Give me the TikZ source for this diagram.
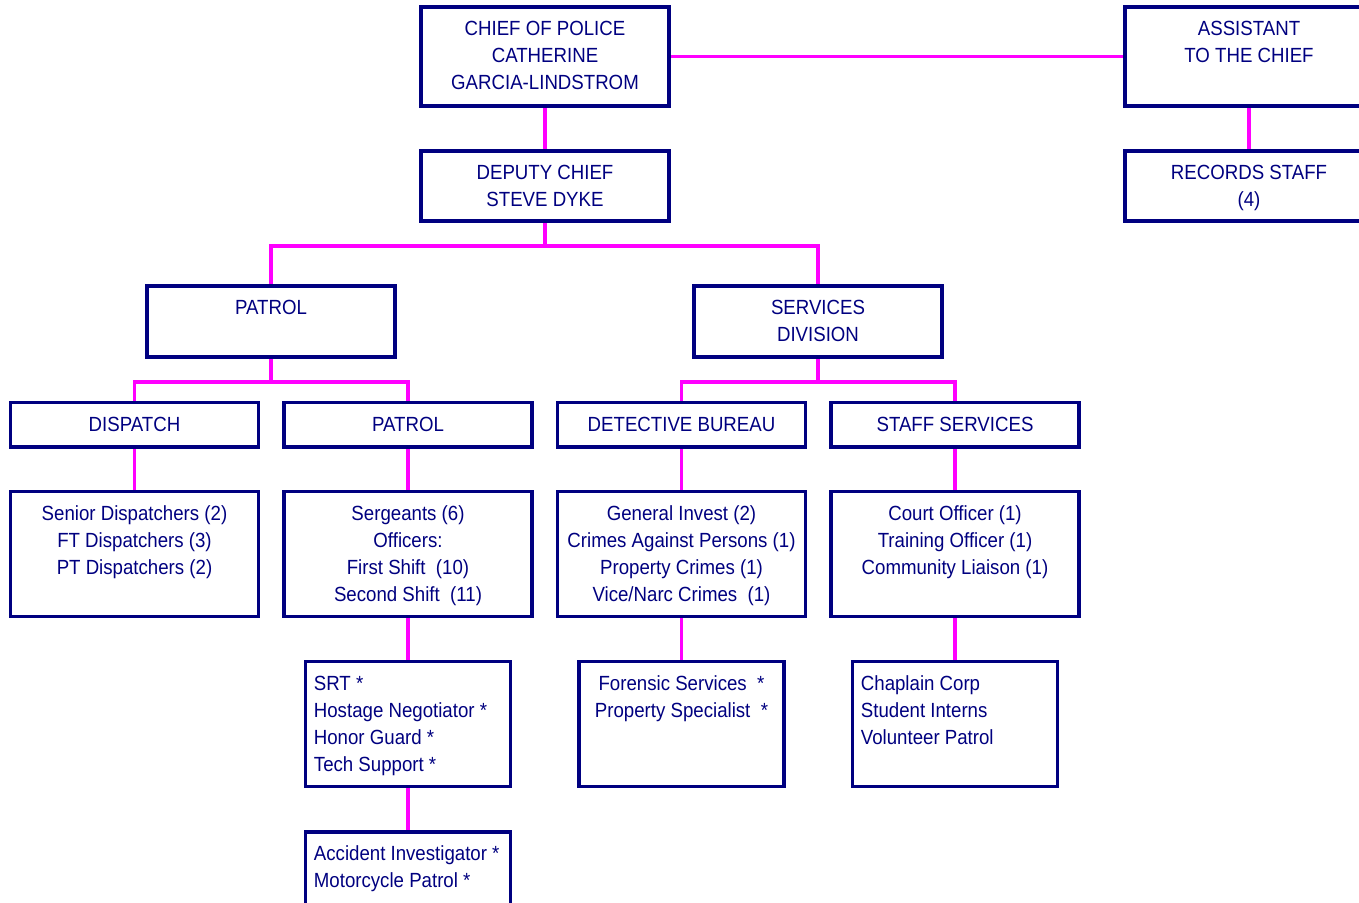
\documentclass[tikz,border=0pt]{standalone}
\usepackage{fontspec}
\setmainfont{Liberation Sans}[FakeStretch=0.91]
\usetikzlibrary{backgrounds}
\definecolor{navy}{RGB}{0,0,128}
\definecolor{pink}{RGB}{255,0,255}
\begin{document}
\begin{tikzpicture}[x=1pt,y=-1pt,
  box/.style={draw=navy, line width=3.6pt, inner sep=0, fill=white},
  wide/.style={minimum width=248},
  narrow/.style={minimum width=205},
  txt/.style={text=navy, font=\fontsize{20.5}{27}\selectfont, inner sep=0, align=center, anchor=north, yshift=-11.4pt},
  ltxt/.style={text=navy, font=\fontsize{20.5}{27}\selectfont, inner sep=0, align=left, anchor=north west, yshift=-11.4pt, xshift=10pt},
  conn/.style={draw=pink, line width=3.6pt}]
\useasboundingbox (0,0) rectangle (1359,902);
% boxes
\node[box, wide, minimum height=99] (chief) at (545,56.5) {};
\node[box, wide, minimum height=99] (asst) at (1249,56.5) {};
\node[box, wide, minimum height=70] (deputy) at (545,186) {};
\node[box, wide, minimum height=70] (records) at (1249,186) {};
\node[box, wide, minimum height=71] (patrol) at (271,321.5) {};
\node[box, wide, minimum height=71] (services) at (818,321.5) {};
\node[box, wide, minimum height=44.5] (dispatch) at (134.5,424.75) {};
\node[box, wide, minimum height=44.5] (patroltwo) at (408,424.75) {};
\node[box, wide, minimum height=44.5] (detective) at (681.5,424.75) {};
\node[box, wide, minimum height=44.5] (staff) at (955,424.75) {};
\node[box, wide, minimum height=125] (dispsub) at (134.5,554) {};
\node[box, wide, minimum height=125] (sergeants) at (408,554) {};
\node[box, wide, minimum height=125] (invest) at (681.5,554) {};
\node[box, wide, minimum height=125] (court) at (955,554) {};
\node[box, narrow, minimum height=125] (srt) at (408,723.8) {};
\node[box, narrow, minimum height=125] (forensic) at (681.5,723.8) {};
\node[box, narrow, minimum height=125] (chaplain) at (955,723.8) {};
\node[box, narrow, minimum height=125] (accident) at (408,894.5) {};
% texts
\node[txt] (chiefT) at (chief.north) {\strut CHIEF OF POLICE\\CATHERINE\\GARCIA-LINDSTROM};
\node[txt] (asstT) at (asst.north) {\strut ASSISTANT\\TO THE CHIEF};
\node[txt] (deputyT) at (deputy.north) {\strut DEPUTY CHIEF\\STEVE DYKE};
\node[txt] (recordsT) at (records.north) {\strut RECORDS STAFF\\(4)};
\node[txt] (patrolT) at (patrol.north) {\strut PATROL};
\node[txt] (servicesT) at (services.north) {\strut SERVICES\\DIVISION};
\node[txt] (dispatchT) at (dispatch.north) {\strut DISPATCH};
\node[txt] (patroltwoT) at (patroltwo.north) {\strut PATROL};
\node[txt] (detectiveT) at (detective.north) {\strut DETECTIVE BUREAU};
\node[txt] (staffT) at (staff.north) {\strut STAFF SERVICES};
\node[txt] (dispsubT) at (dispsub.north) {\strut Senior Dispatchers (2)\\FT Dispatchers (3)\\PT Dispatchers (2)};
\node[txt] (sergeantsT) at (sergeants.north) {\strut Sergeants (6)\\Officers:\\First Shift\ \ (10)\\Second Shift\ \ (11)};
\node[txt] (investT) at (invest.north) {\strut General Invest (2)\\Crimes Against Persons (1)\\Property Crimes (1)\\Vice/Narc Crimes\ \ (1)};
\node[txt] (courtT) at (court.north) {\strut Court Officer (1)\\Training Officer (1)\\Community Liaison (1)};
\node[ltxt] (srtT) at (srt.north west) {\strut SRT *\\Hostage Negotiator *\\Honor Guard *\\Tech Support *};
\node[txt] (forensicT) at (forensic.north) {\strut Forensic Services\ \ *\\Property Specialist\ \ *};
\node[ltxt] (chaplainT) at (chaplain.north west) {\strut Chaplain Corp\\Student Interns\\Volunteer Patrol};
\node[ltxt] (accidentT) at (accident.north west) {\strut Accident Investigator *\\Motorcycle Patrol *};
% connectors
\begin{scope}[on background layer]
\draw[conn] (chief.east) -- (asst.west);
\draw[conn] (chief.south) -- (deputy.north);
\draw[conn] (asst.south) -- (records.north);
\path (deputy.south) ++(0,23) coordinate (dsplit);
\draw[conn] (deputy.south) -- (dsplit);
\draw[conn] (patrol.north) |- (dsplit) -| (services.north);
\path (patrol.south) ++(0,23) coordinate (psplit);
\draw[conn] (patrol.south) -- (psplit);
\draw[conn] (dispatch.north) |- (psplit) -| (patroltwo.north);
\path (services.south) ++(0,23) coordinate (ssplit);
\draw[conn] (services.south) -- (ssplit);
\draw[conn] (detective.north) |- (ssplit) -| (staff.north);
\draw[conn] (dispatch.south) -- (dispsub.north);
\draw[conn] (patroltwo.south) -- (sergeants.north);
\draw[conn] (detective.south) -- (invest.north);
\draw[conn] (staff.south) -- (court.north);
\draw[conn] (sergeants.south) -- (srt.north);
\draw[conn] (srt.south) -- (accident.north);
\draw[conn] (invest.south) -- (forensic.north);
\draw[conn] (court.south) -- (chaplain.north);
\end{scope}
\end{tikzpicture}
\end{document}
